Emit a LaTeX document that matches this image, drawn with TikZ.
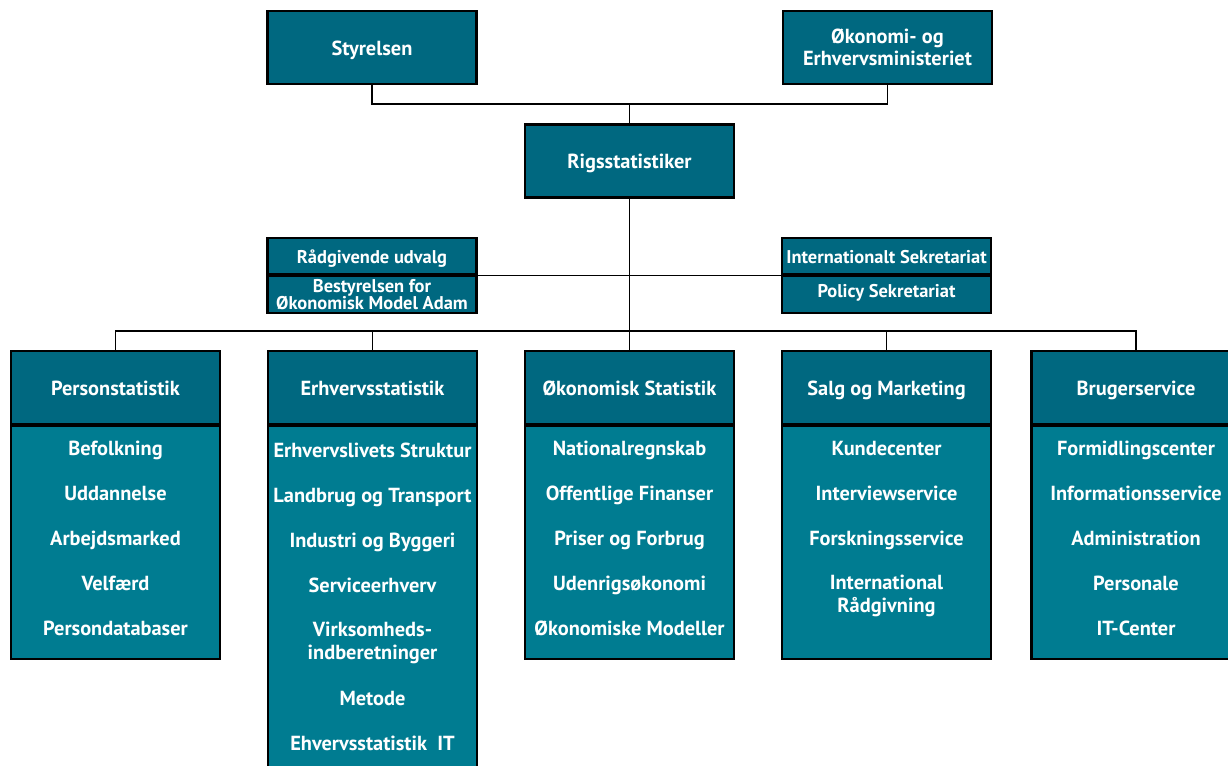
\documentclass[tikz,border=0pt]{standalone}
\usepackage{fontspec}
\setmainfont{PT Sans}
\usetikzlibrary{positioning}

\definecolor{dsdark}{RGB}{0,104,128}
\definecolor{dslight}{RGB}{0,124,145}

\begin{document}
\begin{tikzpicture}[
    x=0.02cm, y=-0.02cm,
    box/.style={rectangle, minimum width=4.18cm, minimum height=1.46cm, inner sep=1pt,
                text centered, align=center, draw=black, line width=1.2pt, fill=dsdark,
                text=white, font=\fontsize{11.6}{12.5}\selectfont\bfseries},
    halfbox/.style={box, minimum height=0.73cm, text height=9.5pt, text depth=1.5pt,
                    font=\fontsize{10.5}{8.5}\selectfont\bfseries},
    headbox/.style={box, text height=10.5pt, text depth=1.6pt},
    bodybox/.style={box, fill=dslight, minimum height=4.66cm},
    item/.style={text=white, align=center, inner sep=0pt, text height=10pt, text depth=1.8pt,
                 font=\fontsize{11.6}{13}\selectfont\bfseries},
    line/.style={draw=black, line width=0.6pt}
]
\useasboundingbox (0,0) rectangle (1228,766);
\clip (0,0) rectangle (1228,766);

% Top level
\node[headbox] (styr) at (372,47.5) {Styrelsen};
\node[box] (oem) at (887.5,47.5) {Økonomi- og\\Erhvervsministeriet};
\node[headbox] (rigs) at (629.5,161) {Rigsstatistiker};

% Staff boxes
\node[halfbox] (raad) at (372,256) {Rådgivende udvalg};
\node[halfbox, anchor=north, text height={}, text depth={}] (adam) at (raad.south) {Bestyrelsen for\\[-0.8pt]Økonomisk Model Adam};
\node[halfbox] (intl) at (886.5,256) {Internationalt Sekretariat};
\node[halfbox, anchor=north, text depth=6pt] (policy) at (intl.south) {Policy Sekretariat};

% Departments
\node[headbox] (pers) at (115.5,387.5) {Personstatistik};
\node[headbox] (erhv) at (372.5,387.5) {Erhvervsstatistik};
\node[headbox] (oek) at (629.5,387.5) {Økonomisk Statistik};
\node[headbox] (salg) at (886.5,387.5) {Salg og Marketing};
\node[headbox] (brug) at (1136,387.5) {Brugerservice};

\node[bodybox, anchor=north] (persbody) at (pers.south) {};
\node[bodybox, anchor=north, minimum height=7.6cm] (erhvbody) at (erhv.south) {};
\node[bodybox, anchor=north] (oekbody) at (oek.south) {};
\node[bodybox, anchor=north] (salgbody) at (salg.south) {};
\node[bodybox, anchor=north] (brugbody) at (brug.south) {};

% Personstatistik
\node[item] (p1) at (115.5,448) {Befolkning};
\node[item] (p2) at (115.5,493) {Uddannelse};
\node[item] (p3) at (115.5,538) {Arbejdsmarked};
\node[item] (p4) at (115.5,583) {Velfærd};
\node[item] (p5) at (115.5,628) {Persondatabaser};

% Erhvervsstatistik
\node[item] (e1) at (372.5,450) {Erhvervslivets Struktur};
\node[item] (e2) at (372.5,495) {Landbrug og Transport};
\node[item] (e3) at (372.5,540) {Industri og Byggeri};
\node[item] (e4) at (372.5,585) {Serviceerhverv};
\node[item] (e5) at (372.5,652.5) {Virksomheds-\\indberetninger};
\node[item] (e6) at (372.5,698) {Metode};
\node[item] (e7) at (372.5,743) {Ehvervsstatistik\ \ IT};

% Okonomisk Statistik
\node[item] (o1) at (629.5,448) {Nationalregnskab};
\node[item] (o2) at (629.5,493) {Offentlige Finanser};
\node[item] (o3) at (629.5,538) {Priser og Forbrug};
\node[item] (o4) at (629.5,583) {Udenrigsøkonomi};
\node[item] (o5) at (629.5,628) {Økonomiske Modeller};

% Salg og Marketing
\node[item] (s1) at (886.5,448) {Kundecenter};
\node[item] (s2) at (886.5,493) {Interviewservice};
\node[item] (s3) at (886.5,538) {Forskningsservice};
\node[item] (s4) at (886.5,605.5) {International\\Rådgivning};

% Brugerservice
\node[item] (b1) at (1136,448) {Formidlingscenter};
\node[item] (b2) at (1136,493) {Informationsservice};
\node[item] (b3) at (1136,538) {Administration};
\node[item] (b4) at (1136,583) {Personale};
\node[item] (b5) at (1136,628) {IT-Center};

% Connectors
\coordinate (topjoin) at (629.5,104);
\coordinate (deptbar) at (629.5,331);
\draw[line] (styr.south) |- (topjoin) -| (oem.south);
\draw[line] (topjoin) -- (rigs.north);
\draw[line] (rigs.south) -- (oek.north);
\draw[line] (raad.south east) -- (intl.south west);
\draw[line] (pers.north) |- (deptbar) -| (brug.north);
\draw[line] (erhv.north) -- (erhv.north |- deptbar);
\draw[line] (salg.north) -- (salg.north |- deptbar);

\end{tikzpicture}
\end{document}
